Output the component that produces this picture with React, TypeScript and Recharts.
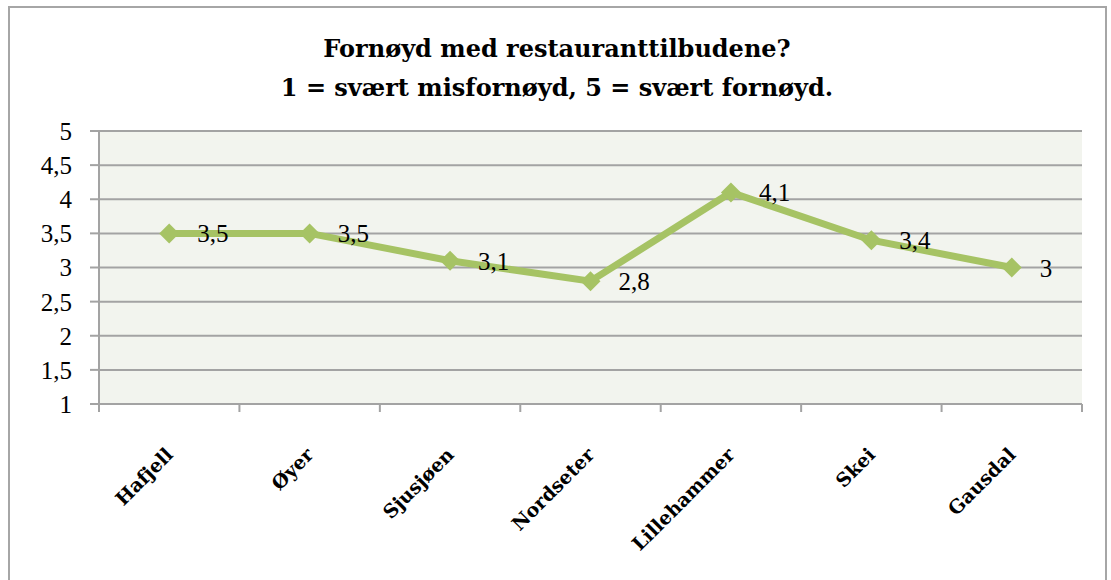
import React from 'react';
import { LineChart, Line, XAxis, YAxis, CartesianGrid } from 'recharts';

const CATEGORIES = ['Hafjell', 'Øyer', 'Sjusjøen', 'Nordseter', 'Lillehammer', 'Skei', 'Gausdal'];
const VALUES = [3.5, 3.5, 3.1, 2.8, 4.1, 3.4, 3];
const Y_TICKS = [1, 1.5, 2, 2.5, 3, 3.5, 4, 4.5, 5];
const TITLE_LINES = ['Fornøyd med restauranttilbudene?', '1 = svært misfornøyd, 5 = svært fornøyd.'];

const data = CATEGORIES.map((name, i) => ({ name, value: VALUES[i] }));

const GREEN = '#A6C364';
const GRID = '#A3A3A3';
const PLOT_BG = '#F2F4EE';
const NUM_FONT = '"Liberation Serif", serif';
const TITLE_FONT = '"DejaVu Serif", serif';

const fmt = (v: number) => String(v).replace('.', ',');

const Diamond = (props: any) => {
  const { cx, cy } = props;
  if (cx == null || cy == null) return null;
  const r = 10;
  return (
    <polygon
      points={`${cx},${cy - r} ${cx + r},${cy} ${cx},${cy + r} ${cx - r},${cy}`}
      fill={GREEN}
      stroke="none"
    />
  );
};

const ValueLabel = (props: any) => {
  const { x, y, value } = props;
  if (x == null || y == null) return null;
  return (
    <text x={x + 28} y={y} dy="0.36em" fontFamily={NUM_FONT} fontSize={25} fill="#000" textAnchor="start">
      {fmt(value)}
    </text>
  );
};

const XTick = (props: any) => {
  const { x, y, payload, index, width } = props;
  const n = CATEGORIES.length;
  const half = payload && payload.offset > 5 ? payload.offset : width ? width / n / 2 : 70.2;
  const lx = x + 5;
  const ly = y + 52;
  return (
    <g>
      <line x1={x - half} y1={y} x2={x - half} y2={y + 8} stroke={GRID} strokeWidth={2} />
      {index === n - 1 && <line x1={x + half} y1={y} x2={x + half} y2={y + 8} stroke={GRID} strokeWidth={2} />}
      <text
        x={lx}
        y={ly}
        transform={`rotate(-45 ${lx} ${ly})`}
        textAnchor="end"
        fontFamily={TITLE_FONT}
        fontWeight="bold"
        fontSize={19}
        fill="#000"
      >
        {payload.value}
      </text>
    </g>
  );
};

export default function App() {
  return (
    <div style={{ position: 'absolute', left: 0, top: 0, width: 1111, height: 580, overflow: 'hidden', background: '#fff' }}>
      <div
        style={{
          position: 'absolute',
          left: 8,
          top: 6,
          width: 1099,
          height: 700,
          border: '2px solid #A6A6A6',
          boxSizing: 'border-box',
        }}
      />
      <svg width={1111} height={120} style={{ position: 'absolute', left: 0, top: 0 }}>
        <text x={557} y={57} textAnchor="middle" fontFamily={TITLE_FONT} fontWeight="bold" fontSize={24} fill="#000">
          {TITLE_LINES[0]}
        </text>
        <text x={557} y={96} textAnchor="middle" fontFamily={TITLE_FONT} fontWeight="bold" fontSize={24} fill="#000">
          {TITLE_LINES[1]}
        </text>
      </svg>
      <div style={{ position: 'absolute', left: 0, top: 0 }}>
        <LineChart width={1111} height={580} data={data} margin={{ top: 131, right: 29, bottom: 26, left: 39 }}>
          <CartesianGrid vertical={false} fill={PLOT_BG} stroke={GRID} strokeWidth={2} />
          <XAxis
            dataKey="name"
            scale="band"
            interval={0}
            height={150}
            tickSize={0}
            tickMargin={0}
            tickLine={false}
            axisLine={{ stroke: GRID, strokeWidth: 2 }}
            tick={<XTick />}
          />
          <YAxis
            domain={[1, 5]}
            ticks={Y_TICKS}
            width={60}
            tickSize={9}
            tickMargin={18}
            tickFormatter={fmt}
            tickLine={{ stroke: GRID, strokeWidth: 2 }}
            axisLine={{ stroke: GRID, strokeWidth: 2 }}
            tick={{ fontFamily: NUM_FONT, fontSize: 25, fill: '#000' }}
            interval={0}
          />
          <Line
            dataKey="value"
            stroke={GREEN}
            strokeWidth={7}
            dot={<Diamond />}
            activeDot={false}
            label={<ValueLabel />}
            isAnimationActive={false}
          />
        </LineChart>
      </div>
    </div>
  );
}
